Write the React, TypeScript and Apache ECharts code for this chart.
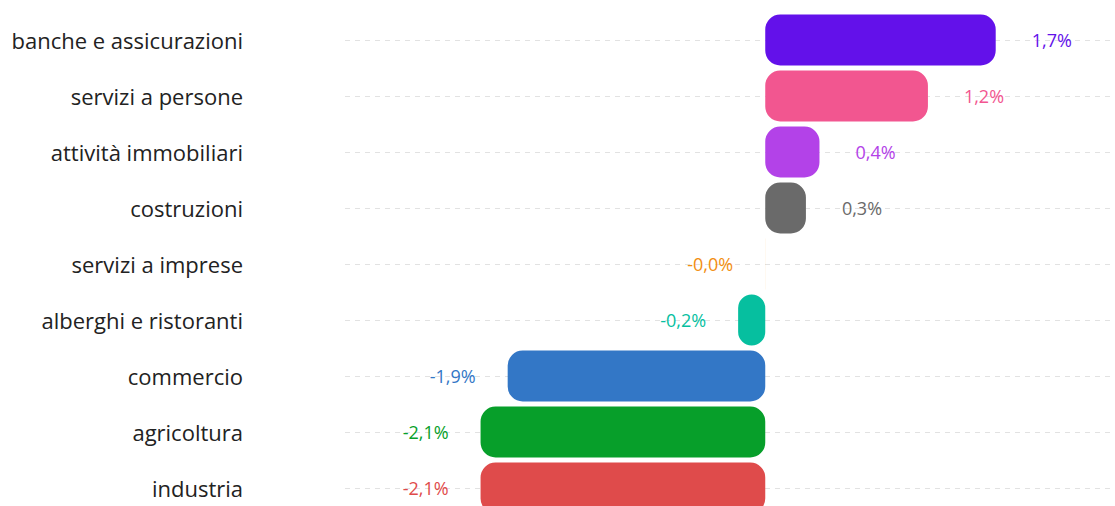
import React, { useEffect, useRef } from "react";
import * as echarts from "echarts";

const categories = [
  "banche e assicurazioni",
  "servizi a persone",
  "attività immobiliari",
  "costruzioni",
  "servizi a imprese",
  "alberghi e ristoranti",
  "commercio",
  "agricoltura",
  "industria",
];
const values = [1.7, 1.2, 0.4, 0.3, -0.0004, -0.2, -1.9, -2.1, -2.1];
const colors = [
  "#6311EA",
  "#F25690",
  "#B342E8",
  "#6A6A6A",
  "#F28E10",
  "#06BF9F",
  "#3377C6",
  "#079F2A",
  "#DF4B4B",
];

const fmt = (v: number) => v.toFixed(1).replace(".", ",") + "%";

export default function App() {
  const ref = useRef<HTMLDivElement>(null);
  useEffect(() => {
    if (!ref.current) return;
    const chart = echarts.init(ref.current, undefined, { renderer: "svg" });
    chart.setOption({
      animation: false,
      grid: { left: 345, right: 0, top: 40, height: 448, containLabel: false },
      xAxis: {
        type: "value",
        min: -3.1,
        max: 2.58,
        show: false,
      },
      yAxis: {
        type: "category",
        inverse: true,
        boundaryGap: false,
        data: categories,
        axisLine: { show: false },
        axisTick: { show: false },
        axisLabel: {
          interval: 0,
          margin: 102,
          color: "#222222",
          fontSize: 22,
          fontFamily: "Open Sans",
          padding: [0, 0, 6, 0],
        },
        splitLine: {
          show: true,
          interval: 0,
          lineStyle: { color: "#E2E2E2", type: [5, 5], width: 1 },
        },
      },
      series: [
        {
          type: "bar",
          clip: false,
          barWidth: 51,
          data: values.map((v, i) => ({
            value: v,
            itemStyle: { color: colors[i], borderRadius: 15 },
            label: {
              show: true,
              position: v >= 0 ? "right" : "left",
              distance: v >= 0 ? 36 : 32,
              color: colors[i],
              fontSize: 18,
              fontFamily: "Open Sans",
              padding: [0, 0, 2, 0],
              formatter: () => fmt(v),
            },
          })),
        },
      ],
    });
    return () => chart.dispose();
  }, []);
  return (
    <div style={{ position: "fixed", left: 0, top: 0, width: 1115, height: 506, overflow: "hidden", background: "#fff" }}>
      <div ref={ref} style={{ width: 1115, height: 520 }} />
    </div>
  );
}
